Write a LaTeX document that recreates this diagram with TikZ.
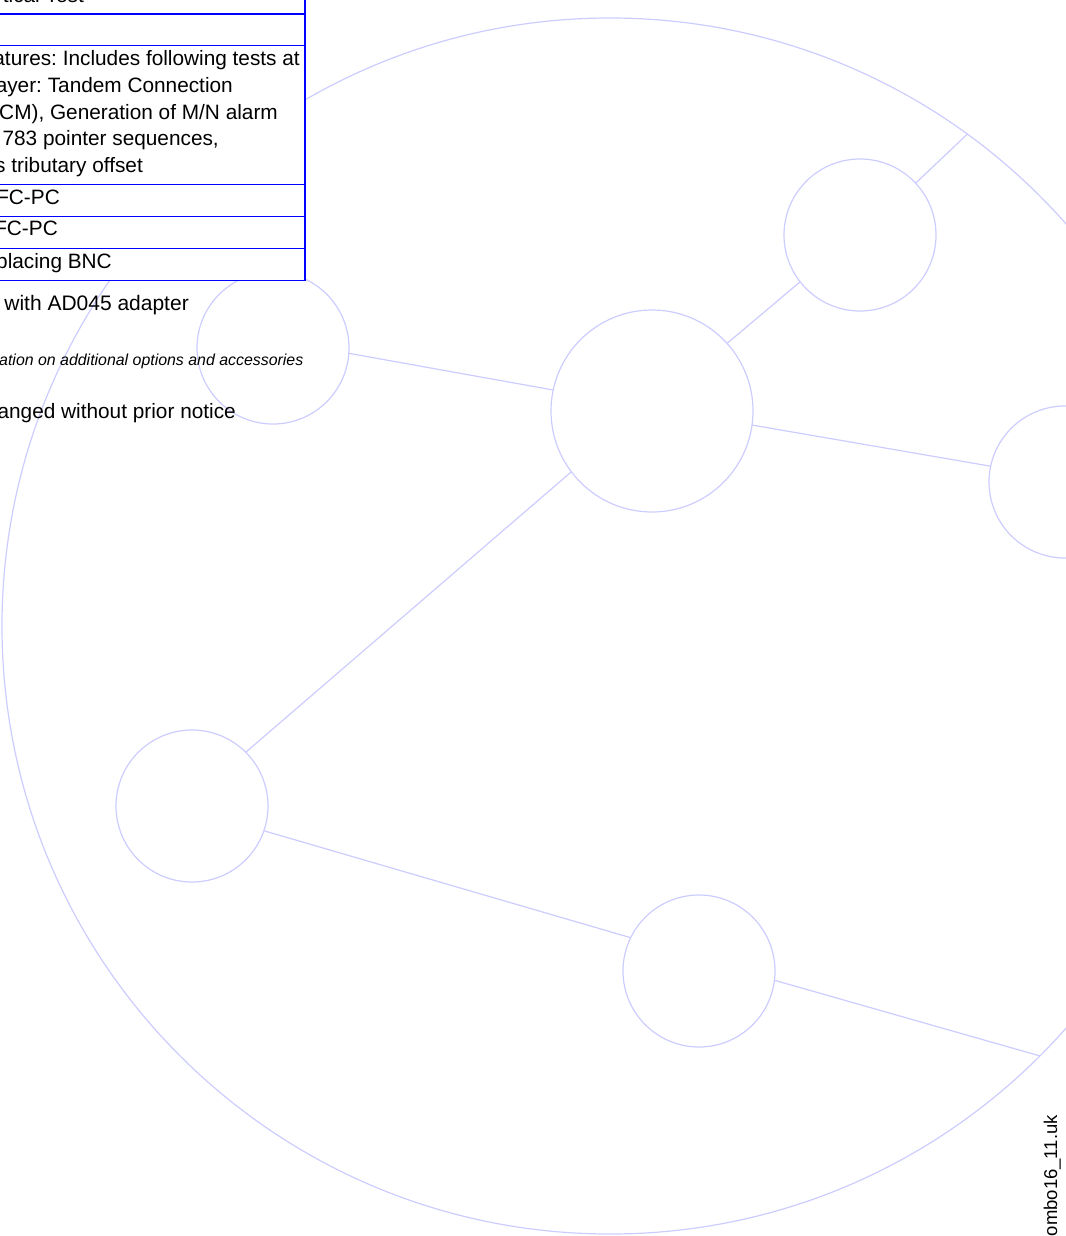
\documentclass[tikz,border=0pt]{standalone}
\usepackage{fontspec}
\setmainfont{Liberation Sans}
\definecolor{ringblue}{RGB}{204,204,255}
\definecolor{tableblue}{RGB}{0,0,255}
\frenchspacing
\begin{document}
\begin{tikzpicture}[x=1pt,y=-1pt,
    hub/.style={circle,draw=ringblue,line width=1.2pt,inner sep=0pt,outer sep=0pt},
    link/.style={draw=ringblue,line width=1.2pt},
    rule/.style={draw=tableblue,line width=1.8pt},
    cell/.style={inner sep=0pt,anchor=base east,font=\fontsize{20.8}{27}\selectfont}]

    % --- Page size ---
    \useasboundingbox (0,0) rectangle (1065,1236);

    % --- Define Circles ---
    % Large outer ring
    \node[hub,minimum size=1216pt] (ring) at (610,626) {};

    % Small circles inside the ring
    \node[hub,minimum size=152pt] (hubA) at (860,235) {};
    \node[hub,minimum size=202pt] (hubB) at (652,411) {};
    \node[hub,minimum size=152pt] (hubC) at (273,348) {};
    \node[hub,minimum size=152pt] (hubD) at (1065,482) {};
    \node[hub,minimum size=152pt] (hubE) at (192,806) {};
    \node[hub,minimum size=152pt] (hubF) at (699,971) {};

    % --- Draw Lines ---
    \draw[link] (hubA.43) -- (ring.54);
    \draw[link] (hubA.218) -- (hubB.42);
    \draw[link] (hubC.-4) -- (hubB.168);
    \draw[link] (hubB.-8) -- (hubD.168);
    \draw[link] (hubB.217) -- (hubE.45);
    \draw[link] (hubE.-19) -- (hubF.154);
    \draw[link] (hubF.-7) -- (ring.-45);

    % --- Table in the top left corner ---
    % White ground hides the circles behind it
    \fill[white] (-5,-5) rectangle (305,280.5);
    \draw[rule] (305,-5) -- (305,280.5);
    \foreach \y in {14,45.5,184.5,216.5,248.5,280.5}
        \draw[rule] (-5,\y) -- (305,\y);

    % --- Place Labels ---
    \node[cell] (rowTop) at (84,2.5) {tical Test};

    \node[cell] (featA) at (300,65.7) {atures: Includes following tests at};
    \node[cell] (featB) at (233,92.3) {ayer: Tandem Connection};
    \node[cell] (featC) at (278,119.3) {CM), Generation of M/N alarm};
    \node[cell] (featD) at (219,146) {783 pointer sequences,};
    \node[cell] (featE) at (143,172.7) {s tributary offset};

    \node[cell] (fcA) at (60,204) {FC-PC};
    \node[cell] (fcB) at (58,235.7) {FC-PC};
    \node[cell] (bnc) at (112,268.3) {placing BNC};

    % Notes below the table
    \node[cell,font=\fontsize{21}{27}\selectfont] (noteA) at (189,310.7) {with AD045 adapter};
    \node[cell,font=\fontsize{15.9}{20}\selectfont\itshape] (noteB) at (303.5,365)
        {ation on additional options and accessories};
    \node[cell] (noteC) at (236,418.3) {anged without prior notice};

    % Document code along the right edge
    \node[cell,rotate=90,font=\fontsize{18.5}{22}\selectfont] (docid) at (1057,1115) {ombo16\_11.uk};

\end{tikzpicture}
\end{document}
